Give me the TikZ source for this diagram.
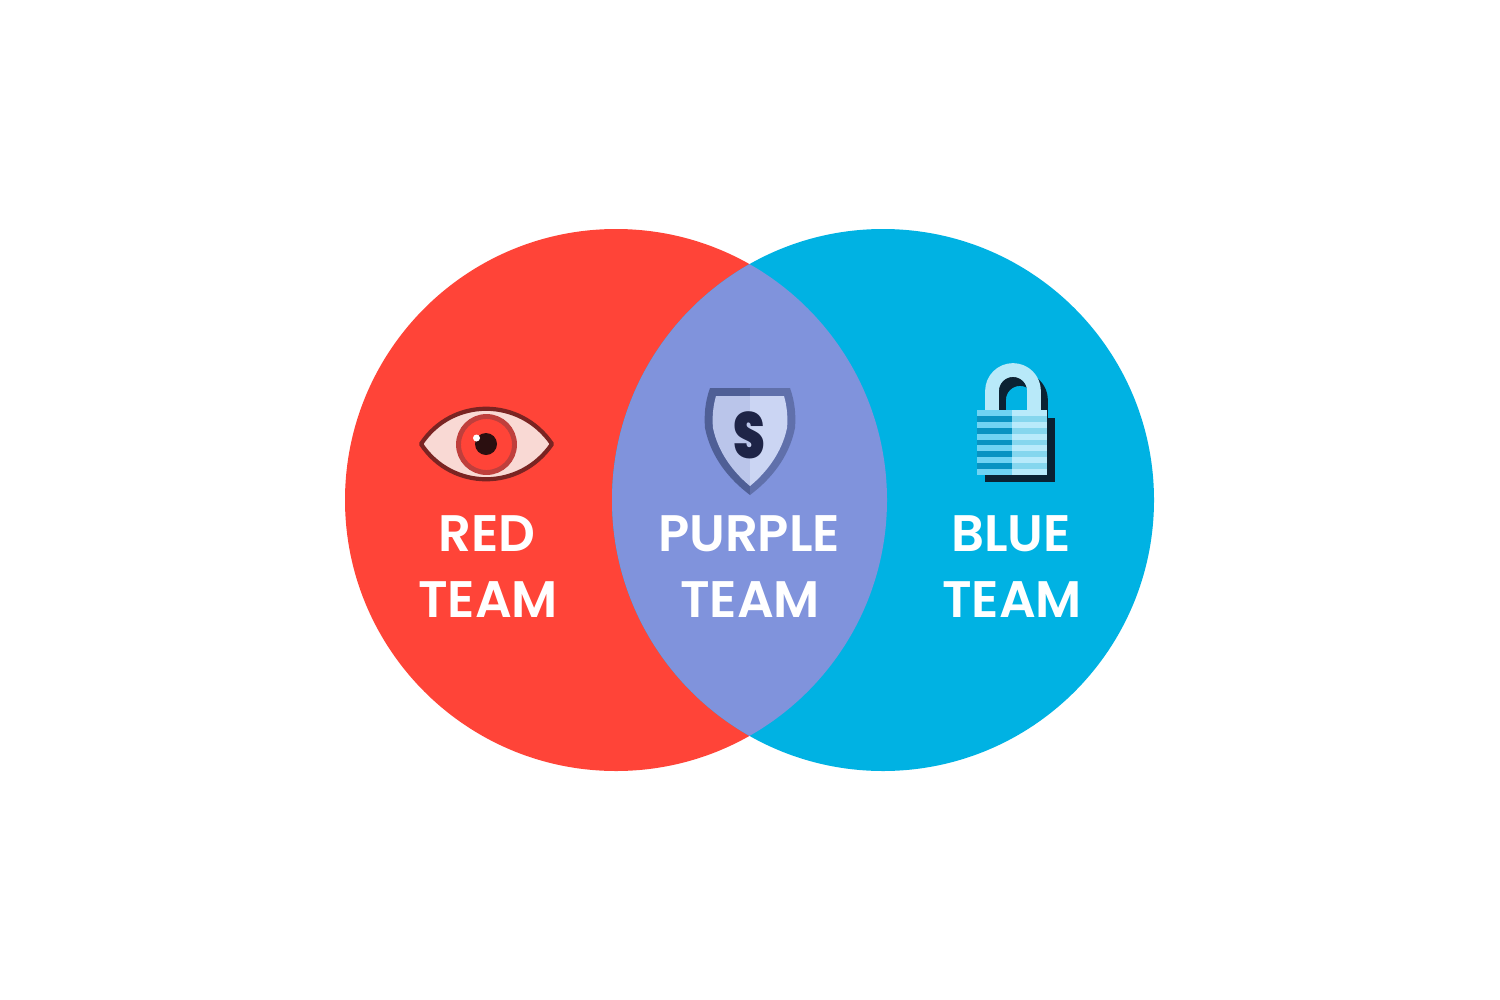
\documentclass[tikz,border=0pt]{standalone}
\usepackage{fontspec}
\setmainfont{Poppins}
\newfontfamily\teamfont{Poppins SemiBold}
\newfontfamily\shieldfont{Poppins Black}
\definecolor{redteam}{HTML}{FF4438}
\definecolor{blueteam}{HTML}{00B2E3}
\definecolor{purpleteam}{HTML}{8093DC}
\definecolor{eyeline}{HTML}{7A2422}
\definecolor{eyewhite}{HTML}{F9D9D4}
\definecolor{eyering}{HTML}{BF3F3C}
\definecolor{pupil}{HTML}{2B0F10}
\definecolor{shieldL}{HTML}{4F5F96}
\definecolor{shieldR}{HTML}{6070AB}
\definecolor{shieldinL}{HTML}{BAC5EA}
\definecolor{shieldinR}{HTML}{CBD5F3}
\definecolor{shieldS}{HTML}{1E2447}
\definecolor{lockdark}{HTML}{0B2233}
\definecolor{shackle}{HTML}{B8E9F9}
\definecolor{lockLa}{HTML}{6FD3F3}
\definecolor{lockLb}{HTML}{0893C2}
\definecolor{lockRa}{HTML}{B8EAFB}
\definecolor{lockRb}{HTML}{85D6EE}
\tikzset{
	teamlabel/.style={text=white,font=\fontsize{14.6}{14.6}\teamfont,inner sep=0pt,anchor=base}
}
\begin{document}
\begin{tikzpicture}[x=0.01cm,y=-0.01cm,line join=round]
	\useasboundingbox (0,0) rectangle (1500,1000);
	\coordinate (R) at (616,500);
	\coordinate (B) at (883,500);
	\def\rad{271}
	% Hai hinh tron
	\fill[redteam] (R) circle (\rad);
	\fill[blueteam] (B) circle (\rad);
	\begin{scope}
		\clip (R) circle (\rad);
		\fill[purpleteam] (B) circle (\rad);
	\end{scope}
	% Con mat
	\coordinate (E) at (486.5,444.5);
	\draw[line width=1.2pt,draw=eyeline,fill=eyewhite] (421,444) .. controls (452,397) and (520,397) .. (552,444) .. controls (520,491) and (452,491) .. cycle;
	\draw[line width=1.4pt,draw=eyering,fill=redteam] (E) circle (28);
	\fill[pupil] (486,444) circle (11);
	\fill[white] (476.5,438) circle (3.5);
	% Khien
	\coordinate (S) at (749,435);
	\fill[shieldL] (710,388) -- (750,388) -- (750,495) .. controls (730,480) and (711,458) .. (705,428) .. controls (704,415) and (705,402) .. cycle;
	\fill[shieldR] (790,388) -- (750,388) -- (750,495) .. controls (770,480) and (789,458) .. (795,428) .. controls (796,415) and (795,402) .. cycle;
	\fill[shieldinL] (716,396) -- (750,396) -- (750,486) .. controls (733,472) and (718,452) .. (713,428) .. controls (712,418) and (713,406) .. cycle;
	\fill[shieldinR] (784,396) -- (750,396) -- (750,486) .. controls (767,472) and (782,452) .. (787,428) .. controls (788,418) and (787,406) .. cycle;
	\node[inner sep=0pt,text=shieldS,xscale=.78] (shieldtext) at (S) {\fontsize{18.5}{18.5}\shieldfont S};
	% Ong khoa
	\draw[line width=3.9pt,draw=lockdark] (999,418) -- (999,400) arc (180:360:21) -- (1041,418);
	\fill[lockdark] (985,418) rectangle (1055,482);
	\draw[line width=3.9pt,draw=shackle] (992,411) -- (992,391) arc (180:360:21) -- (1034,411);
	\foreach \i in {0,...,10} {
		\pgfmathsetmacro\ytop{410+\i*5.91}
		\pgfmathtruncatemacro\odd{mod(\i,2)}
		\ifnum\odd=0
			\fill[lockLa] (977,\ytop) rectangle (1012,\ytop+5.95);
			\fill[lockRa] (1012,\ytop) rectangle (1047,\ytop+5.95);
		\else
			\fill[lockLb] (977,\ytop) rectangle (1012,\ytop+5.95);
			\fill[lockRb] (1012,\ytop) rectangle (1047,\ytop+5.95);
		\fi
	}
	% Chu
	\node[teamlabel] (redA) at (487,551) {RED};
	\node[teamlabel] (redB) at (488,617) {TEAM};
	\node[teamlabel] (purpleA) at (749,551) {PURPLE};
	\node[teamlabel] (purpleB) at (750,617) {TEAM};
	\node[teamlabel] (blueA) at (1011,551) {BLUE};
	\node[teamlabel] (blueB) at (1012,617) {TEAM};
\end{tikzpicture}
\end{document}
